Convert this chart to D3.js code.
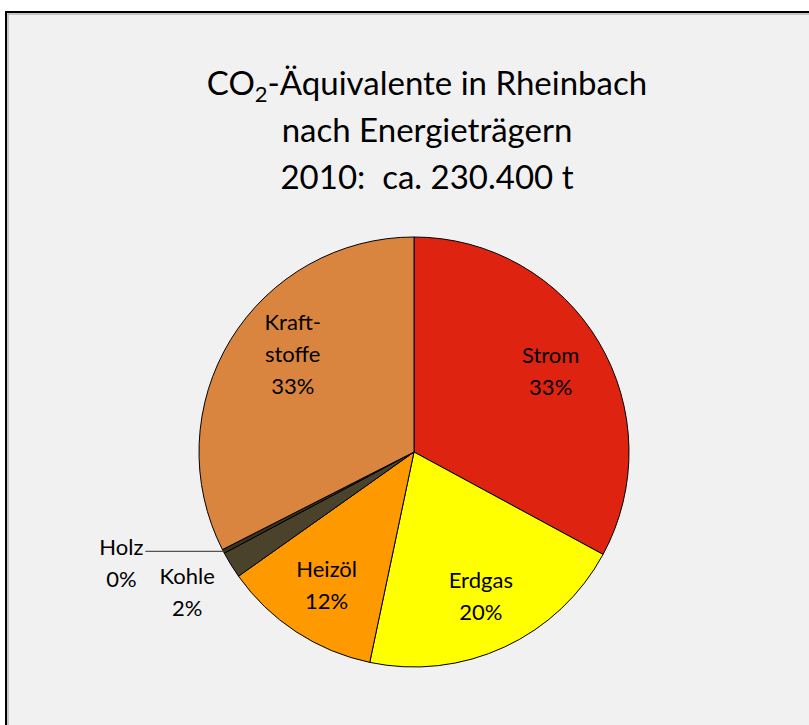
<!DOCTYPE html>
<html>
<head>
<meta charset="utf-8">
<script src="https://d3js.org/d3.v7.min.js"></script>
<style>
body { margin: 0; background: #ffffff; }
text { font-family: Lato, "Open Sans", sans-serif; fill: #000; white-space: pre; }
</style>
</head>
<body>
<script>
var w = 809;
var h = 725;

// data (percent of ca. 230.400 t)
var categories = ["Strom", "Erdgas", "Heizöl", "Kohle", "Holz", "Kraftstoffe"];
var labelLines = [["Strom"], ["Erdgas"], ["Heizöl"], ["Kohle"], ["Holz"], ["Kraft-", "stoffe"]];
var shares = [32.9, 20.4, 11.9, 2.0, 0.3, 32.5];
var colors = ["#DF2311", "#FFFF00", "#FF9900", "#4A422A", "#3A3320", "#D98540"];
var outside = [false, false, false, true, true, false];
var titleLines = ["-Äquivalente in Rheinbach", "nach Energieträgern", "2010:  ca. 230.400 t"];

var center = {"x": 414, "y": 452};
var radius = 215;

var svg = d3.select("body")
            .append("svg")
            .attr("width", w)
            .attr("height", h);

svg.append("rect")
    .attr("x", 6)
    .attr("y", 12)
    .attr("width", w + 10)
    .attr("height", h + 10)
    .attr("fill", "#F1F1F1")
    .attr("stroke", "#000")
    .attr("stroke-width", 2);

svg.append("rect")
    .attr("x", 8)
    .attr("y", 14)
    .attr("width", w + 10)
    .attr("height", h + 10)
    .attr("fill", "none")
    .attr("stroke", "#9a9a9a")
    .attr("stroke-width", 1);

// title
var title = svg.append("text")
                .attr("text-anchor", "middle")
                .attr("font-size", 33);
var t1 = title.append("tspan").attr("x", 427).attr("y", 95);
t1.append("tspan").text("CO");
t1.append("tspan").attr("font-size", 22).attr("dy", 7).text("2");
t1.append("tspan").attr("dy", -7).text(titleLines[0]);
title.append("tspan").attr("x", 427).attr("y", 142).text(titleLines[1]);
title.append("tspan").attr("x", 427).attr("y", 189).text(titleLines[2]);

var pie = d3.pie()
            .sort(null)
            .value(function(d){ return d; });
var arcs = pie(shares);

var arc = d3.arc()
            .innerRadius(0)
            .outerRadius(radius);

var g = svg.append("g")
            .attr("transform", "translate(" + center.x + "," + center.y + ")");

g.selectAll("path")
    .data(arcs)
    .enter()
    .append("path")
    .attr("d", arc)
    .attr("fill", function(d,i){ return colors[i]; })
    .attr("stroke", "#000")
    .attr("stroke-width", 1);

function midAngle(d){ return (d.startAngle + d.endAngle) / 2; }
function pointAt(a, r){ return [Math.sin(a) * r, -Math.cos(a) * r]; }

var labelRadius = 0.74 * radius;
var lineH = 32;

arcs.forEach(function(d, i){
    var lines = labelLines[i].concat([Math.round(shares[i]) + "%"]);
    var pos;
    if (i === 4) {
        // Holz: leader line to the left
        var edge = pointAt(midAngle(d), radius);
        g.append("line")
            .attr("x1", edge[0])
            .attr("y1", edge[1])
            .attr("x2", edge[0] - 78)
            .attr("y2", edge[1])
            .attr("stroke", "#555")
            .attr("stroke-width", 1.2);
        pos = [edge[0] - 102, edge[1] + 12];
    } else if (outside[i]) {
        pos = pointAt(midAngle(d), radius * 1.24);
    } else if (i === 5) {
        // best-fit placement, pulled up towards the top of the slice
        pos = pointAt(midAngle(d) + 0.13, labelRadius * 0.98);
    } else {
        pos = pointAt(midAngle(d), labelRadius);
    }
    var txt = g.append("text")
                .attr("text-anchor", "middle")
                .attr("font-size", 22)
                .attr("fill", outside[i] ? "#222" : "#000");
    lines.forEach(function(l, k){
        txt.append("tspan")
            .attr("x", pos[0])
            .attr("y", pos[1] + (k - (lines.length - 1) / 2) * lineH + 8)
            .text(l);
    });
});
</script>
</body>
</html>
